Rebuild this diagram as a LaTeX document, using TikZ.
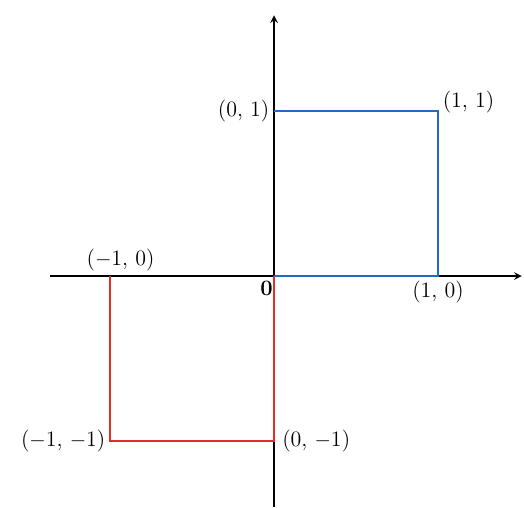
\documentclass[tikz,border=0pt]{standalone}
\usepackage{xcolor}
\definecolor{sqblue}{RGB}{35,105,195}
\definecolor{sqred}{RGB}{225,45,40}
\tikzset{lbl/.style={font=\fontsize{12.5}{15}\selectfont, inner sep=2.5pt}}
\begin{document}
\begin{tikzpicture}[>=stealth, x=3.28cm, y=3.3cm]
\useasboundingbox (-1.671,-1.4) rectangle (1.524,1.673);
\coordinate (o) at (0,0);
\coordinate (xl) at (-1.366,0);
\coordinate (xr) at (1.51,0);
\coordinate (yb) at (0,-1.4);
\coordinate (yt) at (0,1.58);
\coordinate (p10) at (1,0);
\coordinate (p11) at (1,1);
\coordinate (p01) at (0,1);
\coordinate (m10) at (-1,0);
\coordinate (m11) at (-1,-1);
\coordinate (m01) at (0,-1);

\draw[->, line width=0.9pt] (xl) -- (xr);
\draw[->, line width=0.9pt] (yb) -- (yt);
\draw[sqblue, line width=1.1pt] (p01) -- (p11) -- (p10) -- (o);
\draw[sqred, line width=1.1pt] (m10) -- (m11) -- (m01) -- (o);

\node[lbl, anchor=east] (l01) at (p01) {(0, 1)};
\node[lbl, anchor=south west, yshift=-4pt] (l11) at (p11) {(1, 1)};
\node[lbl, anchor=north] (l10) at (p10) {(1, 0)};
\node[lbl, anchor=north east, xshift=2pt] (l0) at (o) {\textbf{0}};
\node[lbl, anchor=south, xshift=6pt] (lm10) at (m10) {($-$1, 0)};
\node[lbl, anchor=east] (lm11) at (m11) {($-$1, $-$1)};
\node[lbl, anchor=west, xshift=2pt] (lm01) at (m01) {(0, $-$1)};
\end{tikzpicture}
\end{document}
